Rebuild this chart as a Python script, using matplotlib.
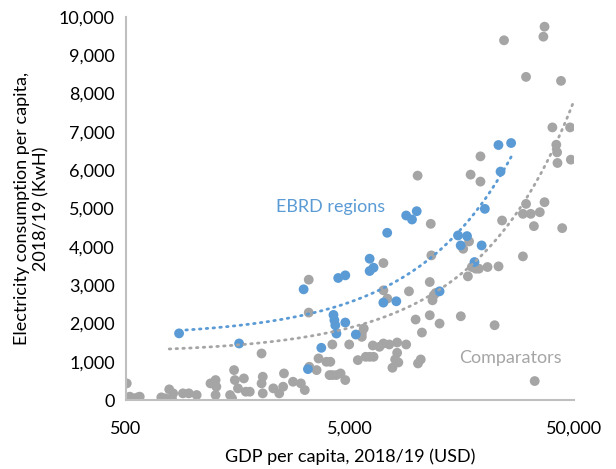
import numpy as np
import matplotlib
matplotlib.use("Agg")
import matplotlib.pyplot as plt
from matplotlib.ticker import FuncFormatter, NullLocator

plt.rcParams['font.family'] = ['Lato', 'DejaVu Sans']

# EBRD regions (GDP per capita USD, electricity kWh per capita)
ebrd_gdp = [863, 1600, 3105, 3245, 3724, 4220, 4260, 4300, 4350, 4430, 4765, 4765,
            5310, 6120, 6120, 6370, 7045, 7330, 8050, 8910, 9460, 9930, 12560,
            15180, 15600, 16650, 17980, 19350, 20000, 23000, 23500, 26200]
ebrd_elec = [1740, 1476, 2890, 807, 1363, 2222, 2083, 1953, 1736, 3186, 3255, 2023,
             1710, 3689, 3368, 3455, 2543, 4366, 2578, 4818, 4713, 4930, 2838,
             4297, 4036, 4280, 3602, 4036, 4991, 6658, 5964, 6710]

# Comparators
comp_gdp = [504, 520, 542, 565, 576, 719, 748, 780, 802, 812, 898, 954, 1034,
            1192, 1256, 1256, 1266, 1458, 1488, 1519, 1531, 1581, 1680, 1714, 1785,
            2015, 2015, 2040, 2040, 2274, 2416, 2515, 2537, 2784, 3018, 3142,
            3272, 3272, 3290, 3548, 3619, 3924, 4086, 4053, 4170, 4341, 4539, 4763,
            4170, 4960, 5420, 5645, 5760, 5645, 5879, 6122, 6372,
            6321, 6768, 7051, 7488, 8119, 8910, 7051, 7051, 7339,
            7734, 7955, 8119, 8220, 9168, 9817, 10020, 10060, 10346, 10475,
            11354, 11354, 11470, 11540, 11678, 11820, 12063, 12559,
            15622, 16006, 17005, 16800, 17280, 17496, 18214, 18810, 19117, 19117, 20559,
            22111, 23023, 23874, 24359,
            29577, 29577, 30546, 30546, 32062, 33119, 33386, 35185, 36500, 36939, 36939,
            40045, 41687, 42030, 42196, 43754, 44290, 48023, 48414]
comp_elec = [434, 87, 43, 69, 87, 69, 43, 278, 43, 174, 174, 174, 130,
             434, 521, 130, 347, 130, 43, 781, 521, 304, 564, 217, 217,
             1215, 434, 608, 174, 304, 174, 347, 694, 477, 434, 260,
             3142, 2283, 868, 781, 1085, 998, 998, 651, 651, 651, 694, 521,
             1450, 1450, 1042, 1736, 1866, 1649, 1128, 1128, 1128,
             1424, 1389, 1476, 1450, 1502, 1450, 3576, 2864, 2647,
             842, 1059, 1233, 981, 2838, 2101, 5859, 955, 1059, 1762,
             2213, 3081, 4600, 3776, 2604, 2734, 2795, 1996,
             2187, 3949, 4140, 3229, 5885, 3472, 3429, 3429, 5703, 6362, 3472,
             1953, 3489, 4687, 9392,
             3750, 4861, 5121, 8437, 4861, 4540, 495, 4904, 9487, 9748, 5165,
             7118, 6666, 6467, 6189, 8333, 4488, 7118, 6276]

# Comparators linear trendline as shown in the chart (intercept, slope, x range)
comp_trend_intercept = 1230
comp_trend_slope = 0.1317
comp_trend_range = [780, 50000]

x_ticks = [500, 5000, 50000]
y_ticks = list(range(0, 10001, 1000))

blue = '#5B9BD5'
gray = '#A5A5A5'

fig = plt.figure(figsize=(6.16, 4.69), dpi=100)
ax = fig.add_axes([0.2045, 0.1471, 0.7273, 0.8166])

ax.scatter(comp_gdp, comp_elec, s=50, color=gray, edgecolors='none', zorder=2)
ax.scatter(ebrd_gdp, ebrd_elec, s=50, color=blue, edgecolors='none', zorder=3)

dot = (0, (0.55, 1.9))
# EBRD linear trendline (least squares)
bb = np.polyfit(ebrd_gdp, ebrd_elec, 1)
xb = np.geomspace(min(ebrd_gdp), max(ebrd_gdp), 300)
ax.plot(xb, np.polyval(bb, xb), color=blue, lw=2.0, linestyle=dot,
        dash_capstyle='round', zorder=4)
# Comparators trendline
xc = np.geomspace(comp_trend_range[0], comp_trend_range[1], 300)
ax.plot(xc, comp_trend_intercept + comp_trend_slope * xc, color=gray, lw=2.0,
        linestyle=dot, dash_capstyle='round', zorder=4)

ax.set_xscale('log')
ax.set_xlim(500, 50000)
ax.set_ylim(0, 10000)
ax.set_xticks(x_ticks)
ax.xaxis.set_minor_locator(NullLocator())
ax.set_yticks(y_ticks)
fmt = FuncFormatter(lambda v, p: f'{int(round(v)):,}')
ax.xaxis.set_major_formatter(fmt)
ax.yaxis.set_major_formatter(fmt)
ax.tick_params(length=0, labelsize=13, colors='#000000', pad=8)
ax.tick_params(axis='x', pad=15)
for s in ['top', 'right']:
    ax.spines[s].set_visible(False)
for s in ['left', 'bottom']:
    ax.spines[s].set_color('#BFBFBF')
    ax.spines[s].set_linewidth(1.5)

ax.set_xlabel('GDP per capita, 2018/19 (USD)', fontsize=13, labelpad=8)
ax.set_ylabel('Electricity consumption per capita,\n2018/19 (KwH)', fontsize=13, labelpad=7)

ax.text(2340, 5040, 'EBRD regions', color=blue, fontsize=13, ha='left', va='center')
ax.text(15340, 1100, 'Comparators', color=gray, fontsize=13, ha='left', va='center')

fig.savefig('out.png', dpi=100)
